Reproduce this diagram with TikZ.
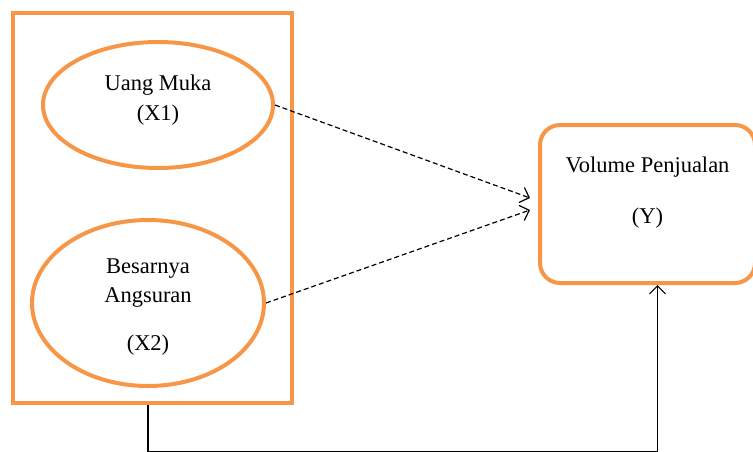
\documentclass[tikz,border=0pt]{standalone}
\usepackage{fontspec}
\setmainfont{Liberation Serif}
\usetikzlibrary{shapes.geometric,arrows.meta}
\definecolor{boxorange}{HTML}{F79646}

\begin{document}
\begin{tikzpicture}[x=1pt,y=-1pt,
  orangeline/.style={draw=boxorange, line width=4pt},
  varellipse/.style={orangeline, ellipse, inner sep=0pt},
  varbox/.style={orangeline, rounded corners=20pt, inner sep=0pt},
  vartext/.style={align=center, inner sep=0pt, font=\fontsize{22.5}{30}\selectfont},
  dasharrow/.style={line width=1.2pt, dash pattern=on 5pt off 3pt, -{Straight Barb[length=8pt,width=16pt]}}]
\useasboundingbox (0,0) rectangle (753,451);

\node[orangeline, minimum width=279pt, minimum height=390pt] (frame) at (152.5,208) {};
\node[varellipse, minimum width=230pt, minimum height=126pt] (x1) at (158,105) {};
\node[varellipse, minimum width=232pt, minimum height=166pt] (x2) at (148,303) {};
\node[varbox, minimum width=215pt, minimum height=158pt] (y) at (647.5,204) {};

\node[vartext] (x1text) at ([yshift=5pt]x1) {Uang Muka\\(X1)};
\node[vartext] (x2text) at ([yshift=-4pt]x2) {Besarnya\\[-1pt]Angsuran\\[18pt](X2)};
\node[vartext] (ytext) at ([yshift=11pt]y) {Volume Penjualan\\[21pt](Y)};

\coordinate (in1) at (530,198);
\coordinate (in2) at (530,210);
\draw[dasharrow] (x1.east) -- (in1);
\draw[dasharrow] (x2.east) -- (in2);

% feedback line along the bottom
\draw[line width=1.2pt, -{Straight Barb[length=8pt,width=16pt]}]
  (x2.south |- frame.south) -- ++(0,47) -| ([xshift=10pt]y.south);
\end{tikzpicture}
\end{document}
